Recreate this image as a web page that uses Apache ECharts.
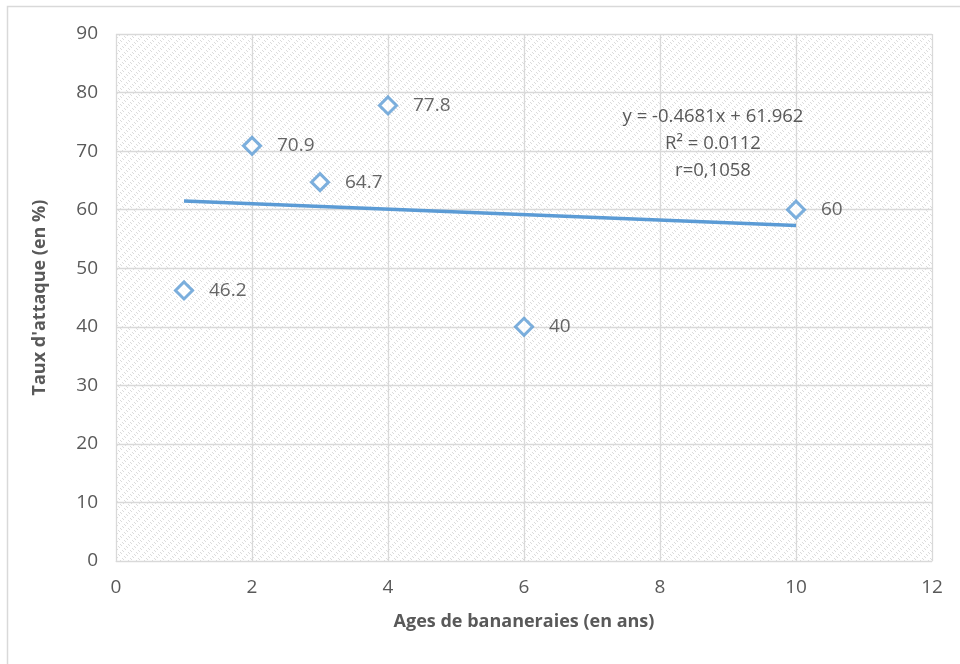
<!DOCTYPE html>
<html><head><meta charset="utf-8">
<script src="https://cdn.jsdelivr.net/npm/echarts@6/dist/echarts.min.js"></script>
<style>html,body{margin:0;padding:0;background:#fff}#c{width:960px;height:664px}</style>
</head><body><div id="c"></div>
<script>
const ages = [1, 2, 3, 4, 6, 10];
const rates = [46.2, 70.9, 64.7, 77.8, 40, 60];
const trendX = [1, 10];
const trendY = [61.5, 57.28];
const xTitle = "Ages de bananeraies (en ans)";
const yTitle = "Taux d'attaque (en %)";
const eqLines = ["y = -0.4681x + 61.962", "R\u00b2 = 0.0112", "r=0,1058"];

const pc = document.createElement('canvas');
pc.width = 8; pc.height = 8;
const g = pc.getContext('2d');
g.fillStyle = '#ffffff'; g.fillRect(0,0,8,8);
g.fillStyle = '#dcdcdc';
for (let y=0;y<8;y++) for (let x=0;x<8;x++) {
  const d = ((x - y) % 4 + 4) % 4;
  if (d === 0 && ((x + y) % 8) < 4) g.fillRect(x,y,1,1);
}

const chart = echarts.init(document.getElementById('c'), null, {renderer:'canvas'});
const font = 'Open Sans, Noto Sans, sans-serif';
chart.setOption({
  animation:false,
  grid:{left:116, right:28, top:34, bottom:103, show:true, backgroundColor:{image:pc, repeat:'repeat'}, borderWidth:0},
  xAxis:{type:'value', min:0, max:12, interval:2,
    name:xTitle, nameLocation:'middle', nameGap:52,
    nameTextStyle:{fontFamily:font, fontSize:18, fontWeight:'bold', color:'#595959'},
    axisLine:{show:true, lineStyle:{color:'#d9d9d9'}}, axisTick:{show:false},
    axisLabel:{fontFamily:font, fontSize:19, color:'#595959', margin:17},
    splitLine:{show:true, lineStyle:{color:'#d9d9d9', width:1.3}}},
  yAxis:{type:'value', min:0, max:90, interval:10,
    name:yTitle, nameLocation:'middle', nameGap:67, nameRotate:90,
    nameTextStyle:{fontFamily:font, fontSize:18, fontWeight:'bold', color:'#595959'},
    axisLine:{show:false}, axisTick:{show:false},
    axisLabel:{fontFamily:font, fontSize:19, color:'#595959', margin:18},
    splitLine:{show:true, lineStyle:{color:'#d9d9d9', width:1.3}}},
  series:[
    {type:'line', data:trendX.map((x,i)=>[x,trendY[i]]), showSymbol:false, symbol:'none',
      lineStyle:{color:'#5b9bd5', width:3.5}, z:2, silent:true},
    {type:'scatter', data:ages.map((x,i)=>[x,rates[i]]), symbol:'diamond', symbolSize:17,
      itemStyle:{color:'#ffffff', borderColor:'#5b9bd5', borderWidth:3},
      label:{show:true, position:'right', distance:15, fontFamily:font, fontSize:19, color:'#404040',
        formatter:p=>String(p.value[1])}, z:3}
  ],
  graphic:[
    {type:'rect', shape:{x:7.5,y:6.5,width:1000,height:700}, style:{fill:'none',stroke:'#d9d9d9',lineWidth:1.5}, z:-10},
    ...eqLines.map((t,i)=>({type:'text', x:713, y:117+i*27, z:10,
      style:{text:t, fontFamily:font, fontSize:18.5, fill:'#595959', textAlign:'center', textVerticalAlign:'middle'}}))
  ]
});
</script></body></html>
